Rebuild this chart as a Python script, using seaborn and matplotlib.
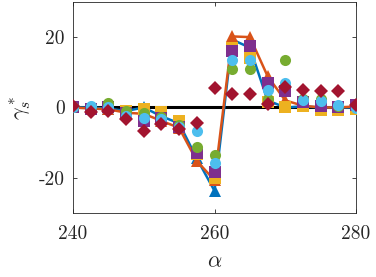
import matplotlib
matplotlib.use("Agg")
import matplotlib.pyplot as plt
import seaborn as sns
import pandas as pd

sns.set_theme(style="ticks")
plt.rcParams['font.family'] = ['cmr10', 'DejaVu Serif']
plt.rcParams['mathtext.fontset'] = 'cm'

alpha = [240, 242.5, 245, 247.5, 250, 252.5, 255, 257.5, 260,
         262.5, 265, 267.5, 270, 272.5, 275, 277.5, 280]

blue = [0, 0, -0.3, -1, 0, -2.5, -4.5, -14.5, -23.7, 19.3, 17, 2, 0, 0.3, 0, 0, 0]
orange = [0, -0.3, -0.5, -1.5, -1.8, -3.8, -5.8, -15.2, -20.7, 20.2, 20, 8.9, 2, 0.5, 0, 0, 0.3]
yellow = [0, -0.3, 0, -1, -0.5, -1.3, -3.9, -13.3, -20, 17, 14, 1.5, 0, 0.5, -0.6, -0.7, -0.3]
purple = [0, -0.3, 0, -1.5, -3.9, -3, -5.5, -13, -18.3, 16, 17.4, 7, 4.6, 1.5, 0.5, 0, 0.8]
green = [0, 0, 1.3, -1, -1.5, -2.6, -5, -11.2, -13.6, 10.8, 10.8, 2.3, 13.4, 2.5, 2.4, 0.5, 0]
lightblue = [0, 0.3, 0, -2.5, -2.9, -3.2, -5.6, -6.7, -15.7, 13.6, 13.6, 4.9, 7, 2.2, 1.7, 0.8, -0.2]
darkred = [0.3, -1.3, -1, -3.4, -6.7, -4.8, -6.2, -4.4, 5.6, 3.7, 3.7, 1.1, 5.9, 5.1, 4.8, 4.8, 0.8]

xticks = [240, 260, 280]
yticks = [-20, 0, 20]

# (values, colour, marker, draw line?)
series = [
    (blue, '#0072BD', '^', True),
    (orange, '#D95319', '^', True),
    (yellow, '#EDB120', 's', False),
    (purple, '#7E2F8E', 's', False),
    (green, '#77AC30', 'o', False),
    (lightblue, '#4DBEEE', 'o', False),
    (darkred, '#A2142F', 'D', False),
]

fig = plt.figure(figsize=(3.76, 2.77), dpi=100)
ax = fig.add_axes([0.194, 0.231, 0.753, 0.762])

ax.axhline(0, color='black', lw=2.2, zorder=1)

for vals, col, mk, line in series:
    df = pd.DataFrame({'alpha': alpha, 'gamma': vals})
    sns.lineplot(data=df, x='alpha', y='gamma', ax=ax, color=col, marker=mk,
                 markersize=8 if mk != 'D' else 7.5, markeredgewidth=0,
                 linestyle='-' if line else '', lw=1.8, sort=False,
                 estimator=None, zorder=3)

ax.set_xlim(240, 280)
ax.set_ylim(-30, 30)
ax.set_xticks(xticks)
ax.set_xticklabels([str(v) for v in xticks])
ax.set_yticks(yticks)
ax.set_yticklabels([str(v) for v in yticks])
ax.tick_params(direction='in', length=3, width=0.6, labelsize=14,
               top=True, right=True, color='#262626')
ax.tick_params(axis='x', pad=9)
ax.tick_params(axis='y', pad=6)
for s in ax.spines.values():
    s.set_linewidth(0.6)
    s.set_color('#262626')
ax.set_xlabel(r'$\alpha$', fontsize=16, labelpad=6)
ax.set_ylabel(r'$\gamma_s^*$', fontsize=16, labelpad=4)

fig.savefig('out.png', dpi=100)
